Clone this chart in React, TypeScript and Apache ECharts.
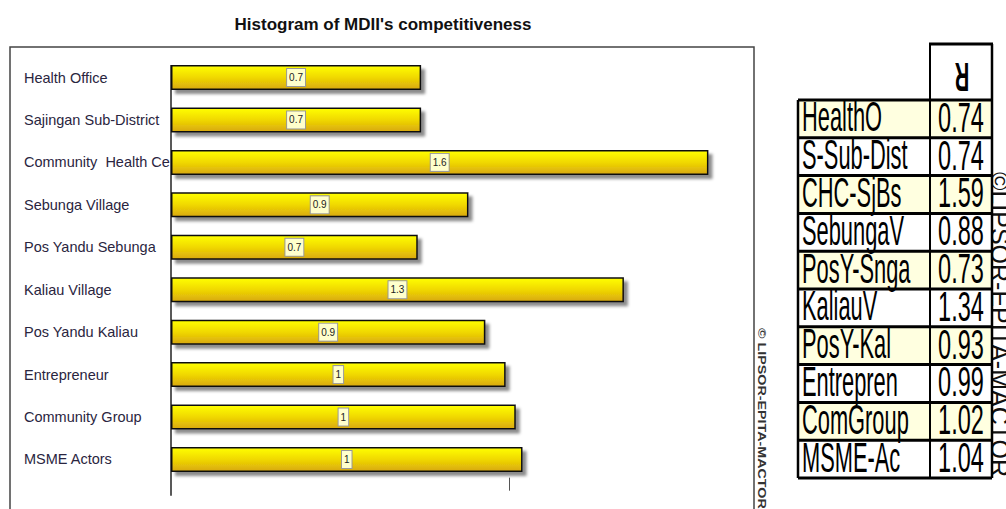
import React, { useEffect, useRef } from "react";
import * as echarts from "echarts";

const titleText = "Histogram of MDII's competitiveness";
const categories = [
  "Health Office",
  "Sajingan Sub-District",
  "Community  Health Ce",
  "Sebunga Village",
  "Pos Yandu Sebunga",
  "Kaliau Village",
  "Pos Yandu Kaliau",
  "Entrepreneur",
  "Community Group",
  "MSME Actors",
];
const values = [0.74, 0.74, 1.59, 0.88, 0.73, 1.34, 0.93, 0.99, 1.02, 1.04];
const shortNames = [
  "HealthO",
  "S-Sub-Dist",
  "CHC-SjBs",
  "SebungaV",
  "PosY-Snga",
  "KaliauV",
  "PosY-Kal",
  "Entrepren",
  "ComGroup",
  "MSME-Ac",
];
const tableHeader = "R";
const xTickValues = [1];
const watermarkLeft = "© LIPSOR-EPITA-MACTOR";
const watermarkRight = "©LIPSOR-EPITA-MACTOR";

const SANS = "'Liberation Sans', Arial, sans-serif";

// layout
const GRID_LEFT = 171;
const GRID_TOP = 56.3;
const GRID_H = 424.4;
const X_MAX = 1.75;
const GRID_W = 591.5;
const BAR_W = 25;
const BAND = GRID_H / categories.length;

const TL = 798;
const TC = 930;
const TR = 992;
const HT = 44;
const RT = 100;
const RH = 37.8;

function buildTable(): any[] {
  const els: any[] = [];
  const n = shortNames.length;
  const bottom = RT + n * RH;
  els.push({
    type: "rect",
    z: 1,
    shape: { x: TC, y: HT, width: TR - TC, height: RT - HT },
    style: { fill: "#ffffff" },
  });
  shortNames.forEach((name, i) => {
    els.push({
      type: "rect",
      z: 1,
      shape: { x: TL, y: RT + i * RH, width: TR - TL, height: RH },
      style: { fill: i % 2 === 0 ? "#ffffe0" : "#ffffff" },
    });
    els.push({
      type: "text",
      z: 2,
      x: TL + 4,
      y: RT + i * RH + 17,
      scaleX: 0.52,
      style: {
        text: name,
        fontSize: 42,
        fontFamily: SANS,
        fill: "#000",
        align: "left",
        verticalAlign: "middle",
      },
    });
    els.push({
      type: "text",
      z: 2,
      x: (TC + TR) / 2,
      y: RT + i * RH + 17,
      scaleX: 0.56,
      style: {
        text: values[i].toFixed(2),
        fontSize: 42,
        fontFamily: SANS,
        fill: "#000",
        align: "center",
        verticalAlign: "middle",
      },
    });
  });
  for (let k = 0; k <= n; k++) {
    els.push({
      type: "line",
      z: 3,
      shape: { x1: TL, y1: RT + k * RH, x2: TR, y2: RT + k * RH },
      style: { stroke: "#000", lineWidth: 3 },
    });
  }
  els.push({
    type: "line",
    z: 3,
    shape: { x1: TL, y1: RT, x2: TL, y2: bottom },
    style: { stroke: "#000", lineWidth: 2.5 },
  });
  els.push({
    type: "line",
    z: 3,
    shape: { x1: TC, y1: HT, x2: TC, y2: bottom },
    style: { stroke: "#000", lineWidth: 2 },
  });
  els.push({
    type: "line",
    z: 3,
    shape: { x1: TR, y1: HT, x2: TR, y2: bottom },
    style: { stroke: "#000", lineWidth: 2.5 },
  });
  els.push({
    type: "line",
    z: 3,
    shape: { x1: TC - 1, y1: HT, x2: TR + 1, y2: HT },
    style: { stroke: "#000", lineWidth: 3 },
  });
  els.push({
    type: "text",
    z: 2,
    x: (TC + TR) / 2 + 1,
    y: 77,
    rotation: Math.PI,
    scaleX: 0.5,
    style: {
      text: tableHeader,
      fontSize: 40,
      fontWeight: "bold",
      fontFamily: SANS,
      fill: "#000",
      align: "center",
      verticalAlign: "middle",
    },
  });
  return els;
}

export default function App() {
  const ref = useRef<HTMLDivElement>(null);
  useEffect(() => {
    document.body.style.margin = "0";
    if (!ref.current) return;
    const chart = echarts.init(ref.current, undefined, { renderer: "svg" });
    const firstBarTop = GRID_TOP + (BAND - BAR_W) / 2;
    const option: any = {
      animation: false,
      backgroundColor: "#ffffff",
      grid: { left: GRID_LEFT, top: GRID_TOP, width: GRID_W, height: GRID_H, containLabel: false },
      xAxis: {
        type: "value",
        min: 0,
        max: X_MAX,
        interval: 1,
        offset: -3,
        axisLine: { show: false },
        axisLabel: { show: false },
        axisTick: { show: true, customValues: xTickValues, length: 13, lineStyle: { color: "#555", width: 1 } },
        splitLine: {
          show: true,
          showMinLine: false,
          showMaxLine: false,
          lineStyle: { color: "#777", width: 1, type: [4, 7] },
        },
      },
      yAxis: {
        type: "category",
        data: categories,
        inverse: true,
        axisLine: { show: false },
        axisTick: { show: false },
        axisLabel: {
          align: "left",
          margin: GRID_LEFT - 24,
          fontSize: 14.5,
          fontFamily: SANS,
          color: "#2a2540",
        },
      },
      series: [
        {
          type: "bar",
          data: values,
          barWidth: BAR_W,
          itemStyle: {
            color: new echarts.graphic.LinearGradient(0, 0, 0, 1, [
              { offset: 0, color: "#ffff00" },
              { offset: 0.5, color: "#f0d800" },
              { offset: 1, color: "#d8a810" },
            ]),
            borderColor: "#111",
            borderWidth: 1.5,
            shadowColor: "rgba(0,0,0,0.45)",
            shadowBlur: 3,
            shadowOffsetX: 4,
            shadowOffsetY: 4,
          },
          label: {
            show: true,
            position: "inside",
            formatter: (p: any) => String(Math.round(p.value * 10) / 10),
            fontSize: 10,
            fontFamily: SANS,
            color: "#222",
            backgroundColor: "#ffffcc",
            borderColor: "#999",
            borderWidth: 1,
            padding: [4, 2, 3, 2],
          },
        },
      ],
      graphic: [
        {
          type: "text",
          x: 383,
          y: 24,
          style: {
            text: titleText,
            fontSize: 17,
            fontWeight: "bold",
            fontFamily: SANS,
            fill: "#111",
            align: "center",
            verticalAlign: "middle",
          },
        },
        {
          type: "rect",
          shape: { x: 10, y: 47, width: 744, height: 480 },
          style: { fill: "none", stroke: "#444", lineWidth: 1.5 },
        },
        {
          type: "line",
          shape: { x1: GRID_LEFT, y1: firstBarTop, x2: GRID_LEFT, y2: GRID_TOP + GRID_H + 15 },
          style: { stroke: "#222", lineWidth: 1.5 },
        },
        {
          type: "text",
          x: 762,
          y: 328,
          rotation: -Math.PI / 2,
          scaleX: 1.3,
          style: {
            text: watermarkLeft,
            fontSize: 11,
            fontWeight: "bold",
            fontFamily: SANS,
            fill: "#333",
            align: "left",
            verticalAlign: "middle",
          },
        },
        {
          type: "text",
          x: 1000,
          y: 172,
          rotation: -Math.PI / 2,
          style: {
            text: watermarkRight,
            fontSize: 25,
            fontFamily: SANS,
            fill: "#111",
            align: "left",
            verticalAlign: "middle",
          },
        },
        ...buildTable(),
      ],
    };
    chart.setOption(option);
    return () => chart.dispose();
  }, []);
  return <div ref={ref} style={{ width: 1006, height: 509 }} />;
}
